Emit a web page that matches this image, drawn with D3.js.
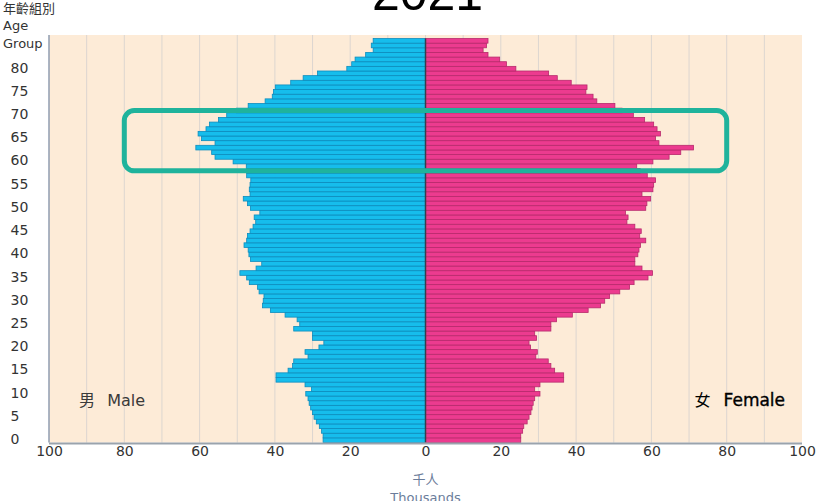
<!DOCTYPE html>
<html>
<head>
<meta charset="utf-8">
<script src="https://cdn.jsdelivr.net/npm/d3@7"></script>
<style>
  html, body { margin: 0; padding: 0; background: #fff; }
  svg { display: block; font-family: "DejaVu Sans", Verdana, sans-serif; }
</style>
</head>
<body>
<svg id="chart" width="818" height="501"></svg>
<script>
// Population pyramid 2021, single year of age (0..86), thousands

const ages = d3.range(0, 87);

const male = [
  27.2, 27.2, 27.6, 28.2, 29.0, 29.6, 30.0, 30.5, 30.9, 31.2,
  31.8, 30.3, 32.0, 39.7, 39.7, 36.5, 35.3, 35.0, 31.2, 32.0,
  28.3, 27.0, 30.0, 30.0, 35.0, 33.4, 34.1, 37.3, 41.2, 43.3,
  43.1, 42.9, 44.2, 44.6, 46.8, 47.5, 49.3, 45.0, 43.5, 46.5,
  46.9, 47.1, 48.2, 47.5, 47.3, 46.6, 45.8, 45.1, 45.5, 44.0,
  46.5, 47.3, 48.4, 46.6, 46.8, 46.6, 46.4, 47.5, 47.5, 47.6,
  51.1, 55.9, 56.8, 61.0, 55.9, 59.5, 60.4, 58.3, 57.4, 55.0,
  52.8, 50.2, 47.1, 42.6, 40.7, 40.4, 39.9, 35.8, 32.5, 28.7,
  20.9, 19.6, 18.7, 15.9, 13.9, 14.4, 13.9
];

const female = [
  25.3, 25.3, 25.8, 26.1, 27.0, 27.5, 28.0, 28.3, 28.6, 29.0,
  30.4, 29.0, 30.4, 36.7, 36.7, 34.3, 33.3, 32.6, 29.3, 29.7,
  27.9, 27.5, 29.5, 29.0, 33.3, 33.3, 34.8, 39.0, 43.2, 46.5,
  47.6, 48.9, 51.6, 54.2, 55.4, 59.1, 60.3, 57.5, 55.6, 55.6,
  56.4, 56.7, 57.1, 58.5, 56.9, 57.3, 55.6, 53.5, 53.8, 53.1,
  58.5, 58.8, 59.8, 57.5, 60.4, 60.6, 61.1, 58.9, 57.0, 56.1,
  60.4, 64.7, 67.8, 71.2, 62.0, 61.1, 62.4, 61.5, 60.6, 58.2,
  55.2, 52.2, 50.3, 45.5, 44.5, 42.6, 42.9, 38.7, 35.0, 32.7,
  24.0, 21.5, 19.7, 16.6, 15.3, 16.2, 16.6
];

const xTicks = [-100, -80, -60, -40, -20, 0, 20, 40, 60, 80, 100];
const ageTicks = d3.range(0, 81, 5);
const highlightAges = [58, 71];   // band the box runs through (centres)
const highlightExtent = 80;       // thousands either side

(function(){
  const svg = d3.select('#chart');

  const plot = { left: 49, right: 802, top: 35, bottom: 442.5 };

  const x = d3.scaleLinear().domain([-100, 100]).range([plot.left, plot.right]);
  const y = d3.scaleBand().domain(ages).range([plot.bottom, 38.5]).padding(0);
  const yc = a => y(a) + y.bandwidth() / 2;

  // Title (cropped at the top of the picture)
  svg.append('text')
    .attr('x', x(0) + 2).attr('y', 10)
    .attr('text-anchor', 'middle')
    .attr('font-family', '"Liberation Sans", Arial, sans-serif')
    .attr('font-size', 50)
    .attr('fill', '#000')
    .text('2021');

  // Plot background
  svg.append('rect')
    .attr('x', plot.left).attr('y', plot.top)
    .attr('width', plot.right - plot.left).attr('height', plot.bottom - plot.top)
    .attr('fill', '#fdebd7');

  // Vertical gridlines every 10k
  svg.append('g')
    .selectAll('line')
    .data(d3.range(-90, 100, 10))
    .enter().append('line')
    .attr('x1', d => x(d)).attr('x2', d => x(d))
    .attr('y1', plot.top).attr('y2', plot.bottom)
    .attr('stroke', '#dcd6d0')
    .attr('stroke-width', 1);

  // Bars
  const bars = svg.append('g');
  bars.selectAll('rect.m')
    .data(ages)
    .enter().append('rect')
    .attr('class', 'm')
    .attr('x', a => x(-male[a]))
    .attr('y', a => y(a))
    .attr('width', a => x(0) - x(-male[a]))
    .attr('height', y.bandwidth())
    .attr('fill', '#16bdec')
    .attr('stroke', '#0d8cbd')
    .attr('stroke-width', 0.8);

  bars.selectAll('rect.f')
    .data(ages)
    .enter().append('rect')
    .attr('class', 'f')
    .attr('x', x(0))
    .attr('y', a => y(a))
    .attr('width', a => x(female[a]) - x(0))
    .attr('height', y.bandwidth())
    .attr('fill', '#ec3b8f')
    .attr('stroke', '#b72a6c')
    .attr('stroke-width', 0.8);

  // Centre line
  svg.append('line')
    .attr('x1', x(0)).attr('x2', x(0))
    .attr('y1', y(86)).attr('y2', plot.bottom)
    .attr('stroke', '#34404d')
    .attr('stroke-width', 1.5);

  // Axes lines
  svg.append('line')
    .attr('x1', plot.left).attr('x2', plot.right)
    .attr('y1', plot.bottom + 1).attr('y2', plot.bottom + 1)
    .attr('stroke', '#9aa3ad').attr('stroke-width', 2.2);
  svg.append('line')
    .attr('x1', plot.left).attr('x2', plot.left)
    .attr('y1', plot.top).attr('y2', plot.bottom)
    .attr('stroke', '#8f9db0').attr('stroke-width', 1.5);

  // X tick labels (absolute values)
  const xAxis = d3.axisBottom(x)
    .tickValues(xTicks)
    .tickFormat(d => Math.abs(d))
    .tickSize(0)
    .tickPadding(3);
  const xg = svg.append('g')
    .attr('transform', `translate(0,${plot.bottom + 1})`)
    .call(xAxis);
  xg.select('.domain').remove();
  xg.selectAll('text')
    .attr('font-family', '"DejaVu Sans", Verdana, sans-serif')
    .attr('font-size', 14)
    .attr('fill', '#333');

  // Age tick labels (left aligned)
  svg.append('g')
    .selectAll('text')
    .data(ageTicks)
    .enter().append('text')
    .attr('x', 10.5)
    .attr('y', a => yc(a) - 1)
    .attr('dy', '0.35em')
    .attr('font-size', 14)
    .attr('fill', '#333')
    .text(a => a);

  // Age group heading
  const head = svg.append('g').attr('fill', '#333').attr('font-size', 13);
  head.append('text').attr('x', 3).attr('y', 13)
    .attr('font-family', '"Noto Sans CJK TC", sans-serif').text('年齡組別');
  head.append('text').attr('x', 3).attr('y', 30).text('Age');
  head.append('text').attr('x', 3).attr('y', 48).text('Group');

  // Sex labels
  const sexY = yc(8) - 3;
  const ml = svg.append('text').attr('x', x(-92)).attr('y', sexY).attr('dy', '0.35em')
    .attr('font-size', 16).attr('fill', '#3a3a3a');
  ml.append('tspan').attr('font-family', '"Noto Sans CJK TC", sans-serif').text('男');
  ml.append('tspan').attr('dx', 12).text('Male');

  const fl = svg.append('text').attr('x', x(95.5)).attr('y', sexY).attr('dy', '0.35em')
    .attr('text-anchor', 'end').attr('font-size', 16).attr('fill', '#000');
  fl.append('tspan').attr('font-family', '"Noto Sans CJK TC", sans-serif').text('女');
  fl.append('tspan').attr('dx', 13).attr('font-size', 17)
    .attr('stroke', '#000').attr('stroke-width', 0.35).text('Female');

  // Unit label
  svg.append('text').attr('x', x(0)).attr('y', 484)
    .attr('text-anchor', 'middle').attr('font-size', 13).attr('fill', '#6b7d9b')
    .attr('font-family', '"Noto Sans CJK TC", sans-serif')
    .text('千人');
  svg.append('text').attr('x', x(0)).attr('y', 502)
    .attr('text-anchor', 'middle').attr('font-size', 13).attr('fill', '#6b7d9b')
    .text('Thousands');

  // Highlight box around the post-war cohort
  const bx0 = x(-highlightExtent), bx1 = x(highlightExtent);
  const by0 = yc(highlightAges[1]), by1 = yc(highlightAges[0]);
  svg.append('rect')
    .attr('x', bx0).attr('y', by0)
    .attr('width', bx1 - bx0).attr('height', by1 - by0)
    .attr('rx', 10).attr('ry', 10)
    .attr('fill', 'none')
    .attr('stroke', '#1fb39c')
    .attr('stroke-width', 5);
})();
</script>
</body>
</html>
